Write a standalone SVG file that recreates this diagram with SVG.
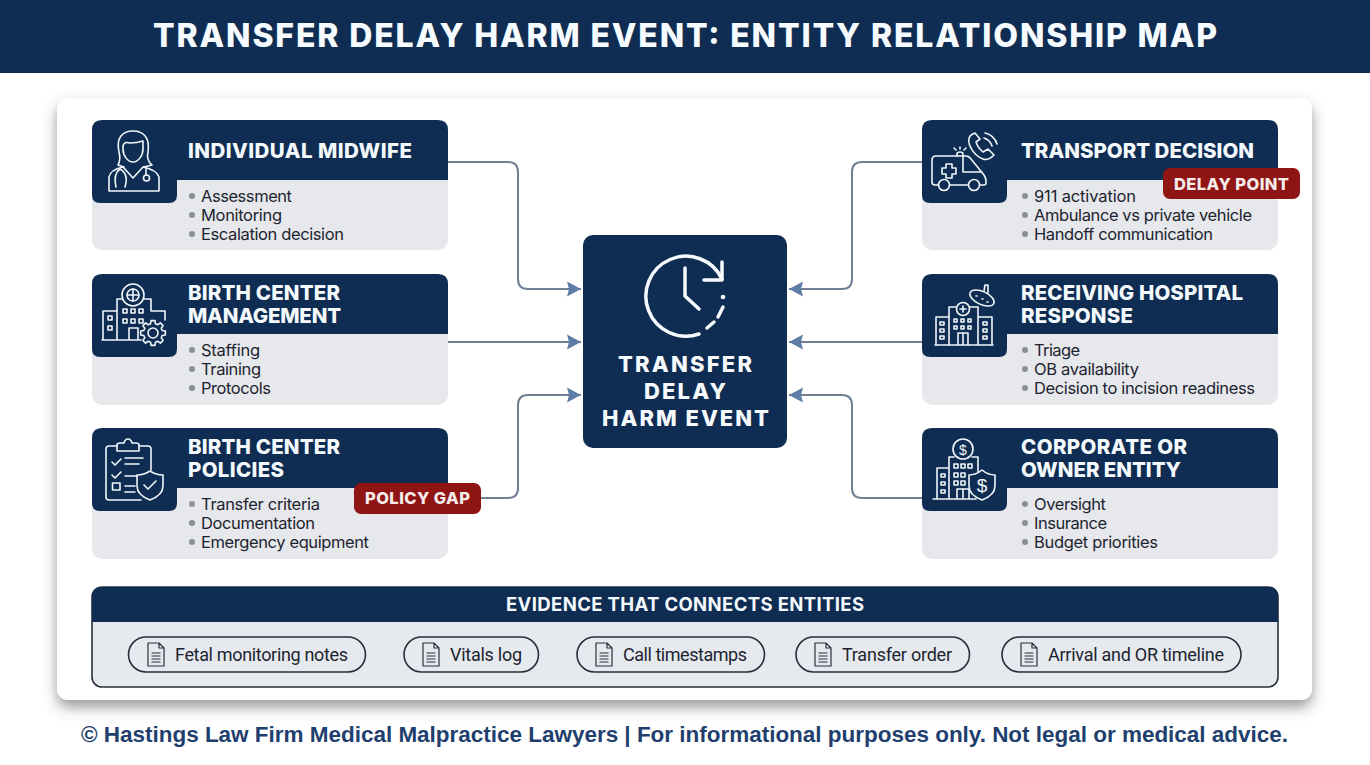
<svg xmlns="http://www.w3.org/2000/svg" width="1370" height="765" viewBox="0 0 1370 765">
<style>
.navy{fill:#0f2d52}
.body{fill:#e6e8ec}
.h{font-family:"Inter","Liberation Sans",sans-serif;font-weight:800;font-size:20.5px;fill:#f4f9fd}
.t{font-family:"Inter","Liberation Sans",sans-serif;font-size:16.5px;fill:#1d2430}
.p{font-family:"Roboto","Liberation Sans",sans-serif;font-size:18px;fill:#1d2430}
.b{fill:#8b9096}
.badge{fill:#8f1515}
.bt{font-family:"Inter","Liberation Sans",sans-serif;font-weight:800;font-size:16.5px;fill:#f6ecea}
.ct{font-family:"Inter","Liberation Sans",sans-serif;font-weight:800;font-size:22px;fill:#f6fafd}
.ic{fill:none;stroke:#f1f6fa;stroke-width:1.6;stroke-linecap:round;stroke-linejoin:round}
.c{fill:none;stroke:#6f7f94;stroke-width:2;marker-end:url(#arrow)}
.pill{fill:none;stroke:#26303c;stroke-width:1.6}
.dc{fill:none;stroke:#26303c;stroke-width:1.2;stroke-linejoin:round}
</style>
<defs>
<marker id="arrow" markerUnits="userSpaceOnUse" markerWidth="15" markerHeight="16" refX="14" refY="8" orient="auto"><path d="M0,0.5 L14,8 L0,15.5 L2,8 Z" fill="#5d7ca6"/></marker>
<filter id="sh" x="-5%" y="-5%" width="110%" height="112%"><feDropShadow dx="0" dy="7" stdDeviation="7" flood-color="#444" flood-opacity="0.55"/></filter>
<symbol id="doc" width="18" height="25" viewBox="0 0 18 25"><path class="dc" d="M1,1 H12 L17,6 V24 H1 Z M12,1 V6 H17 M4.5,11 H13.5 M4.5,14 H13.5 M4.5,17 H13.5 M4.5,20 H13.5"/></symbol>
</defs>
<rect width="1370" height="765" fill="#fff"/>
<g id="title-bar"><rect width="1370" height="73" class="navy"/>
<text x="153" y="47" textLength="1064" style="font-family:Inter,'Liberation Sans',sans-serif;font-weight:800;font-size:32px;fill:#f6fbff">TRANSFER DELAY HARM EVENT: ENTITY RELATIONSHIP MAP</text></g>
<rect id="panel" x="57" y="98" width="1255" height="602" rx="11" fill="#fff" filter="url(#sh)"/>

<g id="connectors">
<path class="c" d="M448,162 H508 Q518,162 518,172 V279 Q518,289 528,289 H581"/>
<path class="c" d="M448,342 H581"/>
<path class="c" d="M481,498 H508 Q518,498 518,488 V405 Q518,395 528,395 H581"/>
<path class="c" d="M922,162 H862 Q852,162 852,172 V279 Q852,289 842,289 H789"/>
<path class="c" d="M922,342 H789"/>
<path class="c" d="M922,498 H862 Q852,498 852,488 V405 Q852,395 842,395 H789"/>
</g>

<g id="node-midwife">
<rect x="92" y="120" width="356" height="130" rx="10" class="body"/>
<path class="navy" d="M102,120 H438 Q448,120 448,130 V180 H177 V195 Q177,203 169,203 H100 Q92,203 92,195 V130 Q92,120 102,120Z"/>
<g class="ic"><path d="M118,165 Q121,160 119,152 C116,138 122,131 133,131 C144,131 150,138 148,152 Q146,160 152,165 L144,167 M118,165 L124,167"/><path d="M123,149 V146 Q124,141 130,143 Q137,143 143,141 V149 C143,156 138,162 133,162 C128,162 123,156 123,149Z"/><path d="M109,191 V177 Q110,170 123,167 L133,178 L143,167 Q157,170 159,177 V191 Z"/><path d="M120,169 Q113,174 116,187 M120,169 Q129,174 125,187 M146,169 V175"/><circle cx="146.500" cy="178" r="3"/></g>
<text class="h" x="188" y="158" textLength="224">INDIVIDUAL MIDWIFE</text>
<circle class="b" cx="192" cy="196" r="3"/><text class="t" x="201" y="202" textLength="91">Assessment</text>
<circle class="b" cx="192" cy="215" r="3"/><text class="t" x="201" y="221" textLength="81">Monitoring</text>
<circle class="b" cx="192" cy="234" r="3"/><text class="t" x="201" y="240" textLength="143">Escalation decision</text>
</g>

<g id="node-management">
<rect x="92" y="274" width="356" height="131" rx="10" class="body"/>
<path class="navy" d="M102,274 H438 Q448,274 448,284 V334 H177 V349 Q177,357 169,357 H100 Q92,357 92,349 V284 Q92,274 102,274Z"/>
<g class="ic"><circle cx="133" cy="295" r="11"/><circle cx="133" cy="295" r="6"/><path d="M133,289 V301 M127,295 H139"/><path d="M103,340 V311 H117 M117,340 V299 H122 M144,299 H151 V311 H165 V320 M102,340 H141 M129,340 V328 H138 V340"/><path d="M108,316 h4 v4 h-4z M108,326 h4 v4 h-4z M123,309 h4 v4 h-4z M131,309 h4 v4 h-4z M139,309 h4 v4 h-4z M123,319 h4 v4 h-4z M131,319 h4 v4 h-4z M139,319 h4 v4 h-4z"/><path class="navy" transform="translate(153,333)" d="M9.18,-2.46 L12.35,-1.96 12.35,1.96 9.18,2.46 8.23,4.75 10.11,7.35 7.35,10.11 4.75,8.23 2.46,9.18 1.96,12.35 -1.96,12.35 -2.46,9.18 -4.75,8.23 -7.35,10.11 -10.11,7.35 -8.23,4.75 -9.18,2.46 -12.35,1.96 -12.35,-1.96 -9.18,-2.46 -8.23,-4.75 -10.11,-7.35 -7.35,-10.11 -4.75,-8.23 -2.46,-9.18 -1.96,-12.35 1.96,-12.35 2.46,-9.18 4.75,-8.23 7.35,-10.11 10.11,-7.35 8.23,-4.75 Z"/><circle cx="153" cy="333" r="5"/></g>
<text class="h" x="188" y="300" textLength="152">BIRTH CENTER</text>
<text class="h" x="188" y="323" textLength="153">MANAGEMENT</text>
<circle class="b" cx="192" cy="350" r="3"/><text class="t" x="201" y="356" textLength="59">Staffing</text>
<circle class="b" cx="192" cy="369" r="3"/><text class="t" x="201" y="375" textLength="60">Training</text>
<circle class="b" cx="192" cy="388" r="3"/><text class="t" x="201" y="394" textLength="70">Protocols</text>
</g>

<g id="node-policies">
<rect x="92" y="428" width="356" height="131" rx="10" class="body"/>
<path class="navy" d="M102,428 H438 Q448,428 448,438 V488 H177 V503 Q177,511 169,511 H100 Q92,511 92,503 V438 Q92,428 102,428Z"/>
<g class="ic"><path d="M117,446 H109 Q106,446 106,449 V497 Q106,500 109,500 H141 M139,446 H148 Q151,446 151,449 V470"/><path d="M117,451 V445 Q117,443 120,443 H124 Q125,439 128,439 Q131,439 132,443 H136 Q139,443 139,445 V451 Z"/><path d="M112,462 l3,3 l6,-6 M112,475 l3,3 l6,-6 M125,458 H143 M125,464 H139 M125,476 H137 M125,486 H135 M125,492 H135"/><rect x="112.500" y="483" width="7.500" height="7"/><path d="M150,471 Q156,475 163,475 V486 Q163,495 150,500 Q137,495 137,486 V475 Q144,475 150,471Z"/><path d="M144,485 l4,4 l8,-8"/></g>
<text class="h" x="188" y="454" textLength="152">BIRTH CENTER</text>
<text class="h" x="188" y="477" textLength="96">POLICIES</text>
<circle class="b" cx="192" cy="504" r="3"/><text class="t" x="201" y="510" textLength="119">Transfer criteria</text>
<circle class="b" cx="192" cy="523" r="3"/><text class="t" x="201" y="529" textLength="114">Documentation</text>
<circle class="b" cx="192" cy="542" r="3"/><text class="t" x="201" y="548" textLength="168">Emergency equipment</text>
</g>

<g id="badge-policy-gap"><rect class="badge" x="354" y="483" width="127" height="31" rx="7"/><text class="bt" x="365" y="504" textLength="105">POLICY GAP</text></g>

<g id="node-transport">
<rect x="922" y="120" width="356" height="130" rx="10" class="body"/>
<path class="navy" d="M932,120 H1268 Q1278,120 1278,130 V180 H1007 V195 Q1007,203 999,203 H930 Q922,203 922,195 V130 Q922,120 932,120Z"/>
<g class="ic"><path d="M938.500,185 H935 Q932,185 932,182 V160 Q932,156 936,156 H966 Q969,156 971,159 L984,175 Q986,178 986,181 V183 Q986,185 984,185 H980 M950,185 H968 M963,156 V172 H982"/><circle cx="944" cy="185" r="5.500"/><circle cx="974" cy="185" r="5.500"/><path d="M946,164 h6 v4 h4 v6 h-4 v4 h-6 v-4 h-4 v-6 h4z"/><path d="M957,156 V154 Q957,152 960,152 Q963,152 963,154 V156 M960,147 V149 M954,148 L956,150 M966,148 L964,150"/><path d="M970,136 Q967,141 971,148 Q975,156 983,159 Q988,161 994,155 L988,149 L983,152 Q978,148 976,142 L980,139 L975,133 Q972,134 970,136Z"/><path d="M984,138 Q990,140 992,146 M985,133 Q994,135 997,144"/></g>
<text class="h" x="1021" y="158" textLength="233">TRANSPORT DECISION</text>
<circle class="b" cx="1025" cy="196" r="3"/><text class="t" x="1034" y="202" textLength="102">911 activation</text>
<circle class="b" cx="1025" cy="215" r="3"/><text class="t" x="1034" y="221" textLength="218">Ambulance vs private vehicle</text>
<circle class="b" cx="1025" cy="234" r="3"/><text class="t" x="1034" y="240" textLength="179">Handoff communication</text>
</g>

<g id="badge-delay-point"><rect class="badge" x="1163" y="168" width="137" height="31" rx="7"/><text class="bt" x="1174" y="190" textLength="115">DELAY POINT</text></g>

<g id="node-hospital">
<rect x="922" y="274" width="356" height="131" rx="10" class="body"/>
<path class="navy" d="M932,274 H1268 Q1278,274 1278,284 V334 H1007 V349 Q1007,357 999,357 H930 Q922,357 922,349 V284 Q922,274 932,274Z"/>
<g class="ic"><circle cx="963" cy="309" r="6.500"/><path d="M960,309 H966 M963,306 V312"/><path d="M936,345 V317 H949 M949,345 V307 H956 M970,307 H978 V345 M978,317 H992 V345 M935,345 H993 M958,345 V333 H968 V345 M963,333 V345"/><path d="M940,322 h4 v3 h-4z M940,329 h4 v3 h-4z M940,336 h4 v3 h-4z M983,322 h4 v3 h-4z M983,329 h4 v3 h-4z M983,336 h4 v3 h-4z M954,319 h3 v3 h-3z M961,319 h3 v3 h-3z M968,319 h3 v3 h-3z M954,326 h3 v3 h-3z M961,326 h3 v3 h-3z M968,326 h3 v3 h-3z"/><ellipse cx="982" cy="298" rx="13" ry="6.500" transform="rotate(25 982 298)"/><path d="M984,291 L985,285 H988 V293 M976,296 h1 M982,299 h1 M987,302 h1"/></g>
<text class="h" x="1021" y="300" textLength="222">RECEIVING HOSPITAL</text>
<text class="h" x="1021" y="323" textLength="112">RESPONSE</text>
<circle class="b" cx="1025" cy="350" r="3"/><text class="t" x="1034" y="356" textLength="46">Triage</text>
<circle class="b" cx="1025" cy="369" r="3"/><text class="t" x="1034" y="375" textLength="105">OB availability</text>
<circle class="b" cx="1025" cy="388" r="3"/><text class="t" x="1034" y="394" textLength="221">Decision to incision readiness</text>
</g>

<g id="node-corporate">
<rect x="922" y="428" width="356" height="131" rx="10" class="body"/>
<path class="navy" d="M932,428 H1268 Q1278,428 1278,438 V488 H1007 V503 Q1007,511 999,511 H930 Q922,511 922,503 V438 Q922,428 932,428Z"/>
<g class="ic"><circle cx="963" cy="449" r="10"/><path d="M949,499 V457 H954 M972,457 H978 V472 M937,499 V468 H949 M933,499 H976 M957,499 V489 H969 V499 M963,489 V499"/><path d="M941,474 h4 v3 h-4z M941,482 h4 v3 h-4z M941,490 h4 v3 h-4z M954,464 h4 v4 h-4z M961,464 h4 v4 h-4z M968,464 h4 v4 h-4z M954,473 h4 v4 h-4z M961,473 h4 v4 h-4z M954,481 h4 v4 h-4z M961,481 h4 v4 h-4z"/><path class="navy" d="M982,470 Q988,475 995,475 V486 Q995,495 982,500 Q969,495 969,486 V475 Q976,475 982,470Z"/></g>
<text x="963" y="454.500" text-anchor="middle" style="font-family:'Liberation Sans',sans-serif;font-size:14px;fill:#f1f6fa">$</text>
<text x="982" y="492" text-anchor="middle" style="font-family:'Liberation Sans',sans-serif;font-size:19px;fill:#f1f6fa">$</text>
<text class="h" x="1021" y="454" textLength="166">CORPORATE OR</text>
<text class="h" x="1021" y="477" textLength="160">OWNER ENTITY</text>
<circle class="b" cx="1025" cy="504" r="3"/><text class="t" x="1034" y="510" textLength="72">Oversight</text>
<circle class="b" cx="1025" cy="523" r="3"/><text class="t" x="1034" y="529" textLength="73">Insurance</text>
<circle class="b" cx="1025" cy="542" r="3"/><text class="t" x="1034" y="548" textLength="124">Budget priorities</text>
</g>

<g id="node-center">
<rect class="navy" x="583" y="235" width="204" height="213" rx="10"/>
<g fill="none" stroke="#f6fafd" stroke-width="3.500" stroke-linecap="round" stroke-linejoin="round"><path d="M699,334 A40,40 0 1 1 722,279"/><path d="M722,262 V280 H704"/><path d="M685,268 V296 L699,309"/><path d="M723,307 L718,317 M714,322 L707,328"/></g>
<circle cx="723" cy="297" r="2.300" fill="#f6fafd"/>
<text class="ct" x="618" y="372" textLength="134">TRANSFER</text>
<text class="ct" x="644" y="399" textLength="82">DELAY</text>
<text class="ct" x="602" y="426" textLength="167">HARM EVENT</text>
</g>

<g id="evidence">
<rect x="92" y="587" width="1186" height="100" rx="10" fill="#e6eaef" stroke="#26303c" stroke-width="1.600"/>
<path class="navy" d="M102,587 H1268 Q1278,587 1278,597 V622 H92 V597 Q92,587 102,587Z"/>
<text x="506" y="611" textLength="358" style="font-family:Inter,'Liberation Sans',sans-serif;font-weight:700;font-size:18.5px;fill:#f4f9fd">EVIDENCE THAT CONNECTS ENTITIES</text>
<g id="pill-1"><rect class="pill" x="128.500" y="637" width="237" height="35" rx="17.500"/><use href="#doc" x="147" y="642"/><text class="p" x="175" y="660.500" textLength="173">Fetal monitoring notes</text></g>
<g id="pill-2"><rect class="pill" x="404" y="637" width="134.500" height="35" rx="17.500"/><use href="#doc" x="422" y="642"/><text class="p" x="450" y="660.500" textLength="72">Vitals log</text></g>
<g id="pill-3"><rect class="pill" x="577" y="637" width="187.500" height="35" rx="17.500"/><use href="#doc" x="595" y="642"/><text class="p" x="623" y="660.500" textLength="124">Call timestamps</text></g>
<g id="pill-4"><rect class="pill" x="796" y="637" width="173.500" height="35" rx="17.500"/><use href="#doc" x="814" y="642"/><text class="p" x="842" y="660.500" textLength="110">Transfer order</text></g>
<g id="pill-5"><rect class="pill" x="1002" y="637" width="239" height="35" rx="17.500"/><use href="#doc" x="1020" y="642"/><text class="p" x="1048" y="660.500" textLength="176">Arrival and OR timeline</text></g>
</g>

<text id="footer" x="81" y="742" textLength="1207" style="font-family:'Liberation Sans',sans-serif;font-weight:700;font-size:22.5px;fill:#1f3f6e">© Hastings Law Firm Medical Malpractice Lawyers | For informational purposes only. Not legal or medical advice.</text>
</svg>
